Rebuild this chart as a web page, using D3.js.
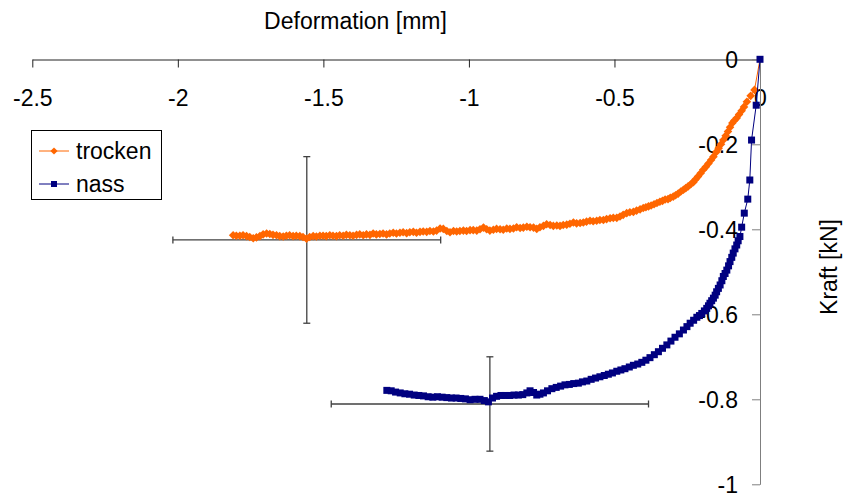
<!DOCTYPE html>
<html><head><meta charset="utf-8">
<script src="https://cdn.jsdelivr.net/npm/d3@7"></script>
<style>
body{margin:0;background:#fff;}
text{font-family:"Liberation Sans",Arial,sans-serif;}
</style></head>
<body><svg id="c" width="843" height="495"></svg>
<script>
// ---- data ----
const xTicks = [-2.5, -2, -1.5, -1, -0.5, 0];
const xTickLabels = ["-2.5", "-2", "-1.5", "-1", "-0.5", "0"];
const yTicks = [0, -0.2, -0.4, -0.6, -0.8, -1];
const yTickLabels = ["0", "-0.2", "-0.4", "-0.6", "-0.8", "-1"];
const seriesNames = ["trocken", "nass"];

const trockenX = [0,-0.019,-0.032,-0.045,-0.055,-0.063,-0.072,-0.080,-0.088,-0.095,-0.103,-0.110,-0.118,-0.126,-0.134,-0.142,-0.150,-0.160,-0.168,-0.177,-0.186,-0.195,-0.204,-0.213,-0.222,-0.229,-0.238,-0.247,-0.255,-0.263,-0.272,-0.281,-0.290,-0.298,-0.308,-0.316,-0.326,-0.335,-0.344,-0.354,-0.364,-0.374,-0.383,-0.392,-0.401,-0.412,-0.424,-0.435,-0.447,-0.458,-0.470,-0.481,-0.492,-0.504,-0.515,-0.527,-0.538,-0.550,-0.561,-0.573,-0.584,-0.596,-0.607,-0.618,-0.630,-0.641,-0.653,-0.664,-0.676,-0.687,-0.698,-0.710,-0.721,-0.733,-0.744,-0.756,-0.767,-0.778,-0.790,-0.801,-0.813,-0.824,-0.836,-0.847,-0.859,-0.870,-0.882,-0.893,-0.905,-0.916,-0.928,-0.939,-0.950,-0.962,-0.973,-0.985,-0.996,-1.008,-1.019,-1.031,-1.042,-1.053,-1.065,-1.076,-1.088,-1.099,-1.111,-1.122,-1.134,-1.145,-1.157,-1.168,-1.180,-1.191,-1.203,-1.214,-1.226,-1.237,-1.249,-1.260,-1.272,-1.283,-1.295,-1.306,-1.318,-1.329,-1.340,-1.352,-1.363,-1.375,-1.386,-1.398,-1.409,-1.421,-1.432,-1.444,-1.455,-1.467,-1.478,-1.490,-1.501,-1.512,-1.524,-1.535,-1.547,-1.558,-1.570,-1.581,-1.593,-1.604,-1.616,-1.627,-1.638,-1.650,-1.661,-1.673,-1.684,-1.695,-1.707,-1.718,-1.730,-1.741,-1.753,-1.764,-1.776,-1.787,-1.799,-1.810];
const trockenY = [0,-0.072,-0.086,-0.100,-0.112,-0.121,-0.130,-0.138,-0.144,-0.150,-0.160,-0.170,-0.180,-0.190,-0.200,-0.209,-0.218,-0.229,-0.237,-0.245,-0.253,-0.260,-0.268,-0.276,-0.283,-0.289,-0.294,-0.299,-0.303,-0.307,-0.311,-0.316,-0.320,-0.323,-0.326,-0.329,-0.330,-0.333,-0.335,-0.338,-0.341,-0.344,-0.346,-0.348,-0.350,-0.353,-0.356,-0.359,-0.360,-0.362,-0.366,-0.370,-0.373,-0.373,-0.374,-0.376,-0.378,-0.378,-0.380,-0.381,-0.380,-0.382,-0.384,-0.385,-0.386,-0.384,-0.387,-0.389,-0.390,-0.392,-0.391,-0.392,-0.390,-0.388,-0.392,-0.395,-0.399,-0.396,-0.395,-0.394,-0.396,-0.397,-0.395,-0.398,-0.399,-0.398,-0.401,-0.400,-0.399,-0.401,-0.403,-0.400,-0.396,-0.400,-0.403,-0.402,-0.402,-0.404,-0.403,-0.404,-0.405,-0.404,-0.407,-0.404,-0.399,-0.398,-0.403,-0.405,-0.404,-0.406,-0.405,-0.406,-0.408,-0.406,-0.407,-0.409,-0.407,-0.408,-0.410,-0.408,-0.410,-0.412,-0.410,-0.411,-0.412,-0.410,-0.413,-0.412,-0.414,-0.412,-0.413,-0.415,-0.414,-0.413,-0.415,-0.414,-0.416,-0.415,-0.414,-0.416,-0.415,-0.415,-0.417,-0.416,-0.418,-0.422,-0.418,-0.416,-0.415,-0.416,-0.414,-0.415,-0.417,-0.416,-0.414,-0.413,-0.411,-0.410,-0.412,-0.416,-0.419,-0.421,-0.418,-0.416,-0.414,-0.415,-0.415,-0.414];

const nassX = [0,-0.013,-0.029,-0.035,-0.042,-0.054,-0.063,-0.069,-0.075,-0.080,-0.086,-0.092,-0.097,-0.103,-0.108,-0.114,-0.120,-0.126,-0.131,-0.137,-0.143,-0.149,-0.154,-0.160,-0.166,-0.172,-0.177,-0.183,-0.191,-0.200,-0.208,-0.217,-0.228,-0.240,-0.251,-0.263,-0.277,-0.292,-0.306,-0.320,-0.335,-0.349,-0.363,-0.378,-0.392,-0.406,-0.420,-0.435,-0.449,-0.464,-0.478,-0.492,-0.507,-0.521,-0.535,-0.550,-0.565,-0.580,-0.595,-0.610,-0.624,-0.640,-0.655,-0.670,-0.685,-0.700,-0.715,-0.730,-0.744,-0.756,-0.767,-0.778,-0.790,-0.801,-0.815,-0.830,-0.845,-0.860,-0.875,-0.890,-0.905,-0.919,-0.933,-0.947,-0.962,-0.979,-0.996,-1.012,-1.028,-1.044,-1.060,-1.076,-1.092,-1.108,-1.124,-1.140,-1.156,-1.172,-1.188,-1.204,-1.220,-1.236,-1.252,-1.267,-1.282];
const nassY = [0,-0.108,-0.190,-0.284,-0.329,-0.362,-0.395,-0.417,-0.427,-0.437,-0.446,-0.456,-0.466,-0.476,-0.486,-0.496,-0.504,-0.511,-0.521,-0.531,-0.539,-0.547,-0.555,-0.562,-0.568,-0.574,-0.580,-0.586,-0.592,-0.598,-0.603,-0.607,-0.614,-0.621,-0.629,-0.637,-0.646,-0.654,-0.663,-0.672,-0.680,-0.688,-0.695,-0.702,-0.708,-0.713,-0.717,-0.720,-0.724,-0.728,-0.731,-0.734,-0.738,-0.741,-0.744,-0.747,-0.750,-0.753,-0.757,-0.759,-0.762,-0.763,-0.765,-0.766,-0.769,-0.772,-0.775,-0.780,-0.785,-0.788,-0.790,-0.784,-0.780,-0.785,-0.789,-0.790,-0.790,-0.791,-0.791,-0.791,-0.793,-0.797,-0.806,-0.803,-0.800,-0.800,-0.801,-0.799,-0.798,-0.797,-0.797,-0.796,-0.795,-0.794,-0.795,-0.794,-0.792,-0.791,-0.790,-0.788,-0.787,-0.785,-0.783,-0.780,-0.779];

const errCenterX = [-1.557, -0.928];
const errCenterY = [-0.425, -0.811];
const errPlusMinusX = [0.46, 0.545];
const errPlusMinusY = [0.196, 0.111];

// ---- drawing ----
const svg = d3.select("#c");
const x = d3.scaleLinear().domain([-2.5, 0]).range([32.3, 760]);
const y = d3.scaleLinear().domain([-1, 0]).range([484.3, 59.3]);
const FS = 23;

// axis titles
svg.append("text").attr("x", 355.5).attr("y", 28.5).attr("text-anchor", "middle")
  .attr("font-size", FS).attr("fill", "#000").text("Deformation [mm]");
svg.append("text").attr("transform", "translate(836.5,267) rotate(-90)").attr("text-anchor", "middle")
  .attr("font-size", FS).attr("fill", "#000").text("Kraft [kN]");

// error bars (below series)
const eb = svg.append("g").attr("stroke", "#404040").attr("stroke-width", 1.3).attr("fill", "none");
errCenterX.forEach((cx, i) => {
  const cy = errCenterY[i], dx = errPlusMinusX[i], dy = errPlusMinusY[i];
  eb.append("line").attr("x1", x(cx - dx)).attr("x2", x(cx + dx)).attr("y1", y(cy)).attr("y2", y(cy));
  eb.append("line").attr("x1", x(cx)).attr("x2", x(cx)).attr("y1", y(cy - dy)).attr("y2", y(cy + dy));
  [cx - dx, cx + dx].forEach(v => eb.append("line").attr("x1", x(v)).attr("x2", x(v)).attr("y1", y(cy) - 3.5).attr("y2", y(cy) + 3.5));
  [cy - dy, cy + dy].forEach(v => eb.append("line").attr("x1", x(cx) - 3.5).attr("x2", x(cx) + 3.5).attr("y1", y(v)).attr("y2", y(v)));
});

// x axis (top)
const gx = svg.append("g").attr("transform", "translate(0,59.5)")
  .call(d3.axisBottom(x).tickValues(xTicks).tickFormat((d, i) => xTickLabels[i]).tickSize(8).tickSizeOuter(0));
gx.select(".domain").attr("stroke", "#222");
gx.selectAll(".tick line").attr("stroke", "#222");
gx.selectAll(".tick text").attr("font-size", FS).attr("font-family", "Liberation Sans, Arial, sans-serif")
  .attr("fill", "#000").attr("y", 46).attr("dy", 0);

// y axis (right, at x=0)
const gy = svg.append("g").attr("transform", "translate(760,0)")
  .call(d3.axisLeft(y).tickValues(yTicks).tickFormat((d, i) => yTickLabels[i]).tickSize(8).tickSizeOuter(0).tickPadding(14));
gy.select(".domain").attr("stroke", "#7f7f7f");
gy.selectAll(".tick line").attr("stroke", "#7f7f7f");
gy.selectAll(".tick text").attr("font-size", FS).attr("font-family", "Liberation Sans, Arial, sans-serif")
  .attr("fill", "#000").attr("dy", "0.36em");

// series
const line = d3.line().x(d => x(d[0])).y(d => y(d[1]));
const trocken = trockenX.map((v, i) => [v, trockenY[i]]);
const nass = nassX.map((v, i) => [v, nassY[i]]);
const diamond = (cx, cy, r) => `M${cx},${cy - r}L${cx + r},${cy}L${cx},${cy + r}L${cx - r},${cy}Z`;

svg.append("path").datum(trocken).attr("d", line).attr("fill", "none").attr("stroke", "#FF6600").attr("stroke-width", 1);
svg.append("g").selectAll("path").data(trocken.slice(1)).join("path")
  .attr("d", d => diamond(x(d[0]), y(d[1]), 4.3)).attr("fill", "#FF6600");

svg.append("path").datum(nass).attr("d", line).attr("fill", "none").attr("stroke", "#000080").attr("stroke-width", 1);
svg.append("g").selectAll("rect").data(nass).join("rect")
  .attr("x", d => x(d[0]) - 3.5).attr("y", d => y(d[1]) - 3.5).attr("width", 7).attr("height", 7).attr("fill", "#000080");

// legend
const lg = svg.append("g");
lg.append("rect").attr("x", 31.5).attr("y", 130.5).attr("width", 130).attr("height", 69)
  .attr("fill", "#fff").attr("stroke", "#000").attr("stroke-width", 1);
const legY = [151, 184];
const legColors = ["#FF6600", "#000080"];
seriesNames.forEach((name, i) => {
  lg.append("line").attr("x1", 39).attr("x2", 69).attr("y1", legY[i]).attr("y2", legY[i]).attr("stroke", legColors[i]).attr("stroke-width", 1);
  if (i === 0) lg.append("path").attr("d", diamond(54, legY[i], 3.6)).attr("fill", legColors[i]);
  else lg.append("rect").attr("x", 51).attr("y", legY[i] - 3).attr("width", 6).attr("height", 6).attr("fill", legColors[i]);
  lg.append("text").attr("x", 76).attr("y", legY[i] + 7.5).attr("font-size", FS).attr("fill", "#000").text(name);
});
</script></body></html>
